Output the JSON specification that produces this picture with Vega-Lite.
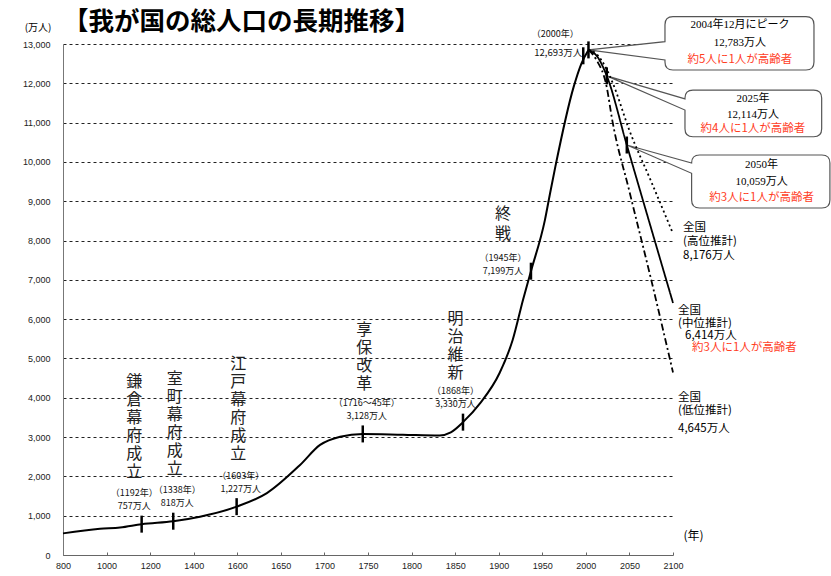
{
  "$schema": "https://vega.github.io/schema/vega-lite/v6.json",
  "width": 610,
  "height": 511,
  "autosize": {"type": "none"},
  "padding": {"left": 63, "top": 44, "right": 158, "bottom": 21},
  "background": "white",
  "config": {"view": {"stroke": null}, "font": "Noto Sans CJK JP"},
  "title": {"text": "【我が国の総人口の長期推移】", "anchor": "start", "frame": "group", "dx": 0, "offset": -33.5, "baseline": "middle", "fontSize": 25.5, "fontWeight": "bold", "font": "Noto Sans CJK JP", "color": "#000"},
  "datasets": {
    "hist": [
      {"year": 800, "pop": 550}, {"year": 970, "pop": 665}, {"year": 1062, "pop": 700}, {"year": 1161, "pop": 785},
      {"year": 1306, "pop": 860}, {"year": 1429, "pop": 975}, {"year": 1597, "pop": 1230}, {"year": 1634, "pop": 1575},
      {"year": 1672, "pop": 2290}, {"year": 1695, "pop": 2800}, {"year": 1718, "pop": 3010}, {"year": 1744, "pop": 3080},
      {"year": 1790, "pop": 3060}, {"year": 1832, "pop": 3040}, {"year": 1845, "pop": 3120}, {"year": 1859, "pop": 3380},
      {"year": 1879, "pop": 3870}, {"year": 1901, "pop": 4630}, {"year": 1916, "pop": 5470}, {"year": 1928, "pop": 6500},
      {"year": 1937, "pop": 7220}, {"year": 1953, "pop": 8520}, {"year": 1959, "pop": 9210}, {"year": 1965, "pop": 9880},
      {"year": 1986, "pop": 11910}, {"year": 1995, "pop": 12510}, {"year": 2003, "pop": 12850}
    ],
    "proj": [
      {"s": "高位", "year": 2003, "pop": 12850}, {"s": "高位", "year": 2012, "pop": 12750}, {"s": "高位", "year": 2024, "pop": 12350},
      {"s": "高位", "year": 2031, "pop": 12000}, {"s": "高位", "year": 2050, "pop": 10800}, {"s": "高位", "year": 2075, "pop": 9500},
      {"s": "高位", "year": 2100, "pop": 8176},
      {"s": "中位", "year": 2003, "pop": 12850}, {"s": "中位", "year": 2014, "pop": 12650}, {"s": "中位", "year": 2024, "pop": 12190},
      {"s": "中位", "year": 2047, "pop": 10430}, {"s": "中位", "year": 2100, "pop": 6414},
      {"s": "低位", "year": 2003, "pop": 12850}, {"s": "低位", "year": 2012, "pop": 12600}, {"s": "低位", "year": 2024, "pop": 11900},
      {"s": "低位", "year": 2030, "pop": 11100}, {"s": "低位", "year": 2050, "pop": 9250}, {"s": "低位", "year": 2075, "pop": 7000},
      {"s": "低位", "year": 2100, "pop": 4645}
    ],
    "markers": [
      {"year": 1161, "pop": 785}, {"year": 1306, "pop": 860}, {"year": 1597, "pop": 1230}, {"year": 1744, "pop": 3080},
      {"year": 1859, "pop": 3380}, {"year": 1937, "pop": 7220}, {"year": 1997, "pop": 12700}, {"year": 2003, "pop": 12850},
      {"year": 2024, "pop": 12190}, {"year": 2047, "pop": 10430}
    ],
    "events": [
      {"year": 1161, "pop": 785, "name": "鎌\n倉\n幕\n府\n成\n立", "yl": "（1192年）", "vl": "757万人"},
      {"year": 1306, "pop": 860, "name": "室\n町\n幕\n府\n成\n立", "yl": "（1338年）", "vl": "818万人"},
      {"year": 1597, "pop": 1230, "name": "江\n戸\n幕\n府\n成\n立", "yl": "（1603年）", "vl": "1,227万人"},
      {"year": 1744, "pop": 3080, "name": "享\n保\n改\n革", "yl": "（1716～45年）", "vl": "3,128万人"},
      {"year": 1859, "pop": 3380, "name": "明\n治\n維\n新", "yl": "（1868年）", "vl": "3,330万人"}
    ],
    "war": [{"year": 1937, "pop": 7220, "name": "終\n戦", "yl": "（1945年）", "vl": "7,199万人"}],
    "y2000": [{"year": 1997, "pop": 12700, "yl": "（2000年）", "vl": "12,693万人"}],
    "callouts": [
      {"id": 1, "year": 2003, "pop": 12850, "t": "2004年12月にピーク\n12,783万人", "r": "約5人に1人が高齢者"},
      {"id": 2, "year": 2024, "pop": 12190, "t": "2025年\n12,114万人", "r": "約4人に1人が高齢者"},
      {"id": 3, "year": 2047, "pop": 10430, "t": "2050年\n10,059万人", "r": "約3人に1人が高齢者"}
    ],
    "ends": [
      {"s": "高位", "year": 2100, "pop": 8176, "t": "全国\n(高位推計)\n8,176万人"},
      {"s": "中位", "year": 2100, "pop": 6414, "t": "全国\n(中位推計)", "v": "6,414万人", "r": "約3人に1人が高齢者"},
      {"s": "低位", "year": 2100, "pop": 4645, "t": "全国\n(低位推計)", "v": "4,645万人"}
    ]
  },
  "encoding": {
    "x": {
      "field": "year", "type": "quantitative",
      "scale": {"domain": [800, 1000, 1200, 1400, 1600, 1650, 1700, 1750, 1800, 1850, 1900, 1950, 2000, 2050, 2100],
                "range": [0, 43.571, 87.143, 130.714, 174.286, 217.857, 261.429, 305, 348.571, 392.143, 435.714, 479.286, 522.857, 566.429, 610],
                "nice": false, "zero": false},
      "axis": {"values": [800, 1000, 1200, 1400, 1600, 1650, 1700, 1750, 1800, 1850, 1900, 1950, 2000, 2050, 2100],
               "format": "d", "title": "(年)", "titleX": 630, "titleY": -20, "titleAlign": "center", "titleBaseline": "middle",
               "titleFontSize": 12, "titleFontWeight": "normal", "titleFont": "Noto Sans CJK JP", "titleColor": "#000",
               "labelFont": "Liberation Sans", "labelFontSize": 9, "labelColor": "#222", "labelPadding": 9,
               "tickSize": -3, "tickColor": "#666", "domainColor": "#666", "grid": false, "labelFlush": false, "labelOverlap": false}
    },
    "y": {
      "field": "pop", "type": "quantitative",
      "scale": {"domain": [0, 13000], "nice": false, "zero": true},
      "axis": {"values": [0, 1000, 2000, 3000, 4000, 5000, 6000, 7000, 8000, 9000, 10000, 11000, 12000, 13000],
               "format": ",d", "title": "(万人)", "titleX": -25.5, "titleY": -17, "titleAngle": 0, "titleAlign": "center",
               "titleBaseline": "middle", "titleFontSize": 10, "titleFontWeight": "normal", "titleFont": "Noto Sans CJK JP", "titleColor": "#000",
               "labelFont": "Liberation Sans", "labelFontSize": 9, "labelColor": "#222", "labelPadding": 13,
               "ticks": false, "domainColor": "#777", "grid": true, "gridColor": "#222", "gridDash": [3, 3], "gridWidth": 1, "labelOverlap": false}
    }
  },
  "layer": [
    {"data": {"name": "callouts"}, "transform": [{"filter": "datum.id == 1"}],
     "mark": {"type": "point", "shape": "M0,0L0.765,-0.082L0.765,-0.252Q0.765,-0.332 0.845,-0.332L2.175,-0.332Q2.255,-0.332 2.255,-0.252L2.255,0.121Q2.255,0.201 2.175,0.201L0.845,0.201Q0.765,0.201 0.765,0.121L0.765,0.101Z",
              "size": 40000, "filled": true, "fill": "white", "stroke": "#555", "strokeWidth": 1.2, "opacity": 1}},
    {"data": {"name": "callouts"}, "transform": [{"filter": "datum.id == 2"}],
     "mark": {"type": "point", "shape": "M0,0L0.782,0.23L0.782,0.222Q0.782,0.142 0.862,0.142L2.069,0.142Q2.149,0.142 2.149,0.222L2.149,0.529Q2.149,0.609 2.069,0.609L0.862,0.609Q0.782,0.609 0.782,0.529L0.782,0.342Z",
              "size": 40000, "filled": true, "fill": "white", "stroke": "#555", "strokeWidth": 1.2, "opacity": 1}},
    {"data": {"name": "callouts"}, "transform": [{"filter": "datum.id == 3"}],
     "mark": {"type": "point", "shape": "M0,0L0.648,0.18L0.648,0.18Q0.648,0.1 0.728,0.1L1.951,0.1Q2.031,0.1 2.031,0.18L2.031,0.55Q2.031,0.63 1.951,0.63L0.728,0.63Q0.648,0.63 0.648,0.55L0.648,0.283Z",
              "size": 40000, "filled": true, "fill": "white", "stroke": "#555", "strokeWidth": 1.2, "opacity": 1}},
    {"data": {"name": "hist"}, "mark": {"type": "line", "color": "black", "strokeWidth": 2, "interpolate": "monotone"}},
    {"data": {"name": "proj"}, "mark": {"type": "line", "color": "black", "strokeWidth": 1.8, "interpolate": "monotone"},
     "encoding": {"detail": {"field": "s"}, "strokeDash": {"field": "s", "type": "nominal", "scale": {"domain": ["高位", "中位", "低位"], "range": [[2, 3], [1, 0], [7, 3, 2, 3]]}, "legend": null}}},
    {"data": {"name": "markers"}, "mark": {"type": "tick", "orient": "vertical", "size": 17, "thickness": 2.5, "color": "black", "opacity": 1}},
    {"data": {"name": "events"}, "transform": [{"filter": "(datum.year == 1161 || datum.year == 1859) && length(datum.name) > 8"}], "mark": {"type": "text", "baseline": "top", "align": "center", "dx": -7.5, "dy": -150.6, "fontSize": 16, "lineHeight": 18, "lineBreak": "\n", "color": "#222"}, "encoding": {"text": {"field": "name"}}},
    {"data": {"name": "events"}, "transform": [{"filter": "(datum.year == 1161 || datum.year == 1859) && length(datum.name) <= 8"}], "mark": {"type": "text", "baseline": "top", "align": "center", "dx": -7.5, "dy": -111.6, "fontSize": 16, "lineHeight": 18, "lineBreak": "\n", "color": "#222"}, "encoding": {"text": {"field": "name"}}},
    {"data": {"name": "events"}, "transform": [{"filter": "datum.year != 1161 && datum.year != 1859 && length(datum.name) > 8"}], "mark": {"type": "text", "baseline": "top", "align": "center", "dx": 1.5, "dy": -150.6, "fontSize": 16, "lineHeight": 18, "lineBreak": "\n", "color": "#222"}, "encoding": {"text": {"field": "name"}}},
    {"data": {"name": "events"}, "transform": [{"filter": "datum.year != 1161 && datum.year != 1859 && length(datum.name) <= 8"}], "mark": {"type": "text", "baseline": "top", "align": "center", "dx": 1.5, "dy": -111.6, "fontSize": 16, "lineHeight": 18, "lineBreak": "\n", "color": "#222"}, "encoding": {"text": {"field": "name"}}},
    {"data": {"name": "events"}, "transform": [{"filter": "datum.year == 1161 || datum.year == 1859"}], "mark": {"type": "text", "baseline": "middle", "align": "center", "dx": -7.5, "dy": -31, "fontSize": 9, "color": "#111"}, "encoding": {"text": {"field": "yl"}}},
    {"data": {"name": "events"}, "transform": [{"filter": "datum.year == 1161 || datum.year == 1859"}], "mark": {"type": "text", "baseline": "middle", "align": "center", "dx": -7.5, "dy": -18, "fontSize": 9, "color": "#111"}, "encoding": {"text": {"field": "vl"}}},
    {"data": {"name": "events"}, "transform": [{"filter": "datum.year != 1161 && datum.year != 1859"}], "mark": {"type": "text", "baseline": "middle", "align": "center", "dx": 4, "dy": -31, "fontSize": 9, "color": "#111"}, "encoding": {"text": {"field": "yl"}}},
    {"data": {"name": "events"}, "transform": [{"filter": "datum.year != 1161 && datum.year != 1859"}], "mark": {"type": "text", "baseline": "middle", "align": "center", "dx": 4, "dy": -18, "fontSize": 9, "color": "#111"}, "encoding": {"text": {"field": "vl"}}},
    {"data": {"name": "war"}, "mark": {"type": "text", "baseline": "top", "align": "center", "dx": -28, "dy": -64.8, "fontSize": 16, "lineHeight": 20, "lineBreak": "\n", "color": "#222"}, "encoding": {"text": {"field": "name"}}},
    {"data": {"name": "war"}, "mark": {"type": "text", "baseline": "middle", "align": "center", "dx": -28, "dy": -13, "fontSize": 9, "color": "#111"}, "encoding": {"text": {"field": "yl"}}},
    {"data": {"name": "war"}, "mark": {"type": "text", "baseline": "middle", "align": "center", "dx": -28, "dy": 0, "fontSize": 9, "color": "#111"}, "encoding": {"text": {"field": "vl"}}},
    {"data": {"name": "y2000"}, "mark": {"type": "text", "baseline": "middle", "align": "center", "dx": -28, "dy": -22, "fontSize": 9, "color": "#111"}, "encoding": {"text": {"field": "yl"}}},
    {"data": {"name": "y2000"}, "mark": {"type": "text", "baseline": "middle", "align": "center", "dx": -25, "dy": -2.5, "fontSize": 9.5, "color": "#111"}, "encoding": {"text": {"field": "vl"}}},
    {"data": {"name": "callouts"}, "transform": [{"filter": "datum.id == 1"}], "mark": {"type": "text", "baseline": "middle", "align": "center", "dx": 151.5, "dy": -24.9, "fontSize": 11, "lineHeight": 18.3, "lineBreak": "\n", "font": "Liberation Serif, Noto Sans CJK JP", "color": "#000"}, "encoding": {"text": {"field": "t"}}},
    {"data": {"name": "callouts"}, "transform": [{"filter": "datum.id == 2"}], "mark": {"type": "text", "baseline": "middle", "align": "center", "dx": 146.2, "dy": 23.5, "fontSize": 11, "lineHeight": 15.7, "lineBreak": "\n", "font": "Liberation Serif, Noto Sans CJK JP", "color": "#000"}, "encoding": {"text": {"field": "t"}}},
    {"data": {"name": "callouts"}, "transform": [{"filter": "datum.id == 3"}], "mark": {"type": "text", "baseline": "middle", "align": "center", "dx": 134.8, "dy": 20, "fontSize": 11, "lineHeight": 16.7, "lineBreak": "\n", "font": "Liberation Serif, Noto Sans CJK JP", "color": "#000"}, "encoding": {"text": {"field": "t"}}},
    {"data": {"name": "callouts"}, "transform": [{"filter": "datum.id == 1"}], "mark": {"type": "text", "baseline": "middle", "align": "center", "dx": 151.5, "dy": 10.1, "fontSize": 11.5, "color": "#ff3d1f"}, "encoding": {"text": {"field": "r"}}},
    {"data": {"name": "callouts"}, "transform": [{"filter": "datum.id == 2"}], "mark": {"type": "text", "baseline": "middle", "align": "center", "dx": 146.2, "dy": 53.5, "fontSize": 11.5, "color": "#ff3d1f"}, "encoding": {"text": {"field": "r"}}},
    {"data": {"name": "callouts"}, "transform": [{"filter": "datum.id == 3"}], "mark": {"type": "text", "baseline": "middle", "align": "center", "dx": 134.8, "dy": 53.3, "fontSize": 11.5, "color": "#ff3d1f"}, "encoding": {"text": {"field": "r"}}},
    {"data": {"name": "ends"}, "transform": [{"filter": "datum.s == '高位'"}], "mark": {"type": "text", "baseline": "top", "align": "left", "dx": 10, "dy": -11.6, "fontSize": 11.5, "lineHeight": 14, "lineBreak": "\n", "color": "#000"}, "encoding": {"text": {"field": "t"}}},
    {"data": {"name": "ends"}, "transform": [{"filter": "datum.s == '中位'"}], "mark": {"type": "text", "baseline": "top", "align": "left", "dx": 5, "dy": 2.3, "fontSize": 11.5, "lineHeight": 13, "lineBreak": "\n", "color": "#000"}, "encoding": {"text": {"field": "t"}}},
    {"data": {"name": "ends"}, "transform": [{"filter": "datum.s == '中位'"}], "mark": {"type": "text", "baseline": "middle", "align": "left", "dx": 12, "dy": 33, "fontSize": 11.5, "color": "#000"}, "encoding": {"text": {"field": "v"}}},
    {"data": {"name": "ends"}, "transform": [{"filter": "datum.s == '中位'"}], "mark": {"type": "text", "baseline": "middle", "align": "left", "dx": 19, "dy": 45.4, "fontSize": 11.5, "color": "#ff3d1f"}, "encoding": {"text": {"field": "r"}}},
    {"data": {"name": "ends"}, "transform": [{"filter": "datum.s == '低位'"}], "mark": {"type": "text", "baseline": "top", "align": "left", "dx": 5, "dy": 19.6, "fontSize": 11.5, "lineHeight": 13.3, "lineBreak": "\n", "color": "#000"}, "encoding": {"text": {"field": "t"}}},
    {"data": {"name": "ends"}, "transform": [{"filter": "datum.s == '低位'"}], "mark": {"type": "text", "baseline": "middle", "align": "left", "dx": 5, "dy": 56.9, "fontSize": 11.5, "color": "#000"}, "encoding": {"text": {"field": "v"}}}
  ]
}
